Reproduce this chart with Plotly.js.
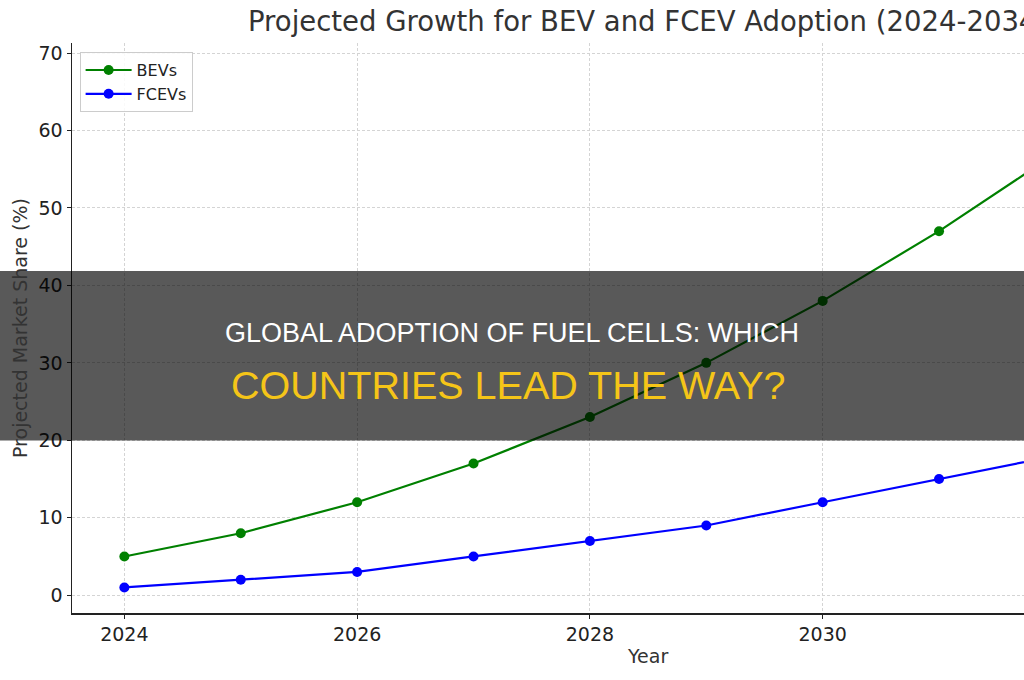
<!DOCTYPE html>
<html>
<head>
<meta charset="utf-8">
<script src="https://cdn.plot.ly/plotly-3.0.1.min.js"></script>
<style>
html,body{margin:0;padding:0;background:#fff;overflow:hidden;}
#chart{width:1024px;height:680px;}
</style>
</head>
<body>
<div id="chart"></div>
<script>
// ---- data ----
const years = [2024, 2025, 2026, 2027, 2028, 2029, 2030, 2031, 2032, 2033];
const bevShare = [5, 8, 12, 17, 23, 30, 38, 47, 57, 68];
const fcevShare = [1, 2, 3, 5, 7, 9, 12, 15, 18, 22];
const seriesNames = ["BEVs", "FCEVs"];
const xTickVals = [2024, 2026, 2028, 2030];
const yTickVals = [0, 10, 20, 30, 40, 50, 60, 70];
const chartTitle = "Projected Growth for BEV and FCEV Adoption (2024-2034)";
const xTitle = "Year";
const yTitle = "Projected Market Share (%)";
const bannerLine1 = "GLOBAL ADOPTION OF FUEL CELLS: WHICH";
const bannerLine2 = "COUNTRIES LEAD THE WAY?";

const baseFont = "DejaVu Sans, sans-serif";

const traces = [
  {
    x: years, y: bevShare, name: seriesNames[0], type: "scatter", mode: "lines+markers",
    line: {color: "#008000", width: 2.2}, marker: {color: "#008000", size: 10},
    legendgroup: "g1"
  },
  {
    x: years, y: fcevShare, name: seriesNames[1], type: "scatter", mode: "lines+markers",
    line: {color: "#0000ff", width: 2.2}, marker: {color: "#0000ff", size: 10},
    legendgroup: "g2"
  }
];

const layout = {
  width: 1024, height: 680,
  margin: {l: 72, r: 0, t: 43, b: 67, pad: 0},
  paper_bgcolor: "#ffffff", plot_bgcolor: "#ffffff",
  font: {family: baseFont, color: "#222222", size: 19},
  showlegend: true,
  legend: {
    x: 0.008, y: 0.984, xanchor: "left", yanchor: "top",
    bgcolor: "rgba(255,255,255,0.85)", bordercolor: "#cccccc", borderwidth: 1,
    font: {family: baseFont, size: 16, color: "#222222"},
    tracegroupgap: 0, itemwidth: 46
  },
  xaxis: {
    range: [2023.55, 2031.73], tickvals: xTickVals, ticktext: xTickVals.map(String),
    showgrid: true, gridcolor: "#d4d4d4", gridwidth: 1, griddash: "3px,2px",
    zeroline: false, showline: true, linecolor: "#222222", linewidth: 1.5,
    ticks: "outside", ticklen: 4, tickcolor: "#222222", tickwidth: 1,
    tickfont: {family: baseFont, size: 19, color: "#222222"}
  },
  yaxis: {
    range: [-2.3, 71.3], tickvals: yTickVals,
    showgrid: true, gridcolor: "#d4d4d4", gridwidth: 1, griddash: "3px,2px",
    zeroline: false, showline: true, linecolor: "#222222", linewidth: 1.5,
    ticks: "outside", ticklen: 4, tickcolor: "#222222", tickwidth: 1,
    tickfont: {family: baseFont, size: 19, color: "#222222"}
  },
  shapes: [
    {
      type: "rect", xref: "paper", yref: "paper",
      x0: -0.1, x1: 1.1, y0: 0.3025, y1: 0.5999,
      fillcolor: "rgba(0,0,0,0.65)", line: {width: 0}, layer: "above"
    }
  ],
  annotations: [
    {
      text: chartTitle, xref: "paper", yref: "paper", x: 0.6046, y: 1.0, yshift: 22,
      xanchor: "center", yanchor: "middle", showarrow: false,
      font: {family: baseFont, size: 27.5, color: "#333333"}
    },
    {
      text: xTitle, xref: "paper", yref: "paper", x: 0.6046, y: 0, yshift: -43,
      xanchor: "center", yanchor: "middle", showarrow: false,
      font: {family: baseFont, size: 19, color: "#333333"}
    },
    {
      text: yTitle, xref: "paper", yref: "paper", x: 0, xshift: -52, y: 0.5,
      xanchor: "center", yanchor: "middle", textangle: -90, showarrow: false,
      font: {family: baseFont, size: 19, color: "#333333"}
    },
    {
      text: bannerLine1, xref: "paper", yref: "paper", x: (512 - 72) / 952, y: (613 - 333) / 570,
      xanchor: "center", yanchor: "middle", showarrow: false,
      font: {family: "Liberation Sans, Arial, sans-serif", size: 27, color: "#ffffff"}
    },
    {
      text: bannerLine2, xref: "paper", yref: "paper", x: (508 - 72) / 952, y: (613 - 385) / 570,
      xanchor: "center", yanchor: "middle", showarrow: false,
      font: {family: "Liberation Sans, Arial, sans-serif", size: 39.5, color: "#f5c518"}
    }
  ]
};

Plotly.newPlot("chart", traces, layout, {displayModeBar: false, staticPlot: true});
</script>
</body>
</html>
